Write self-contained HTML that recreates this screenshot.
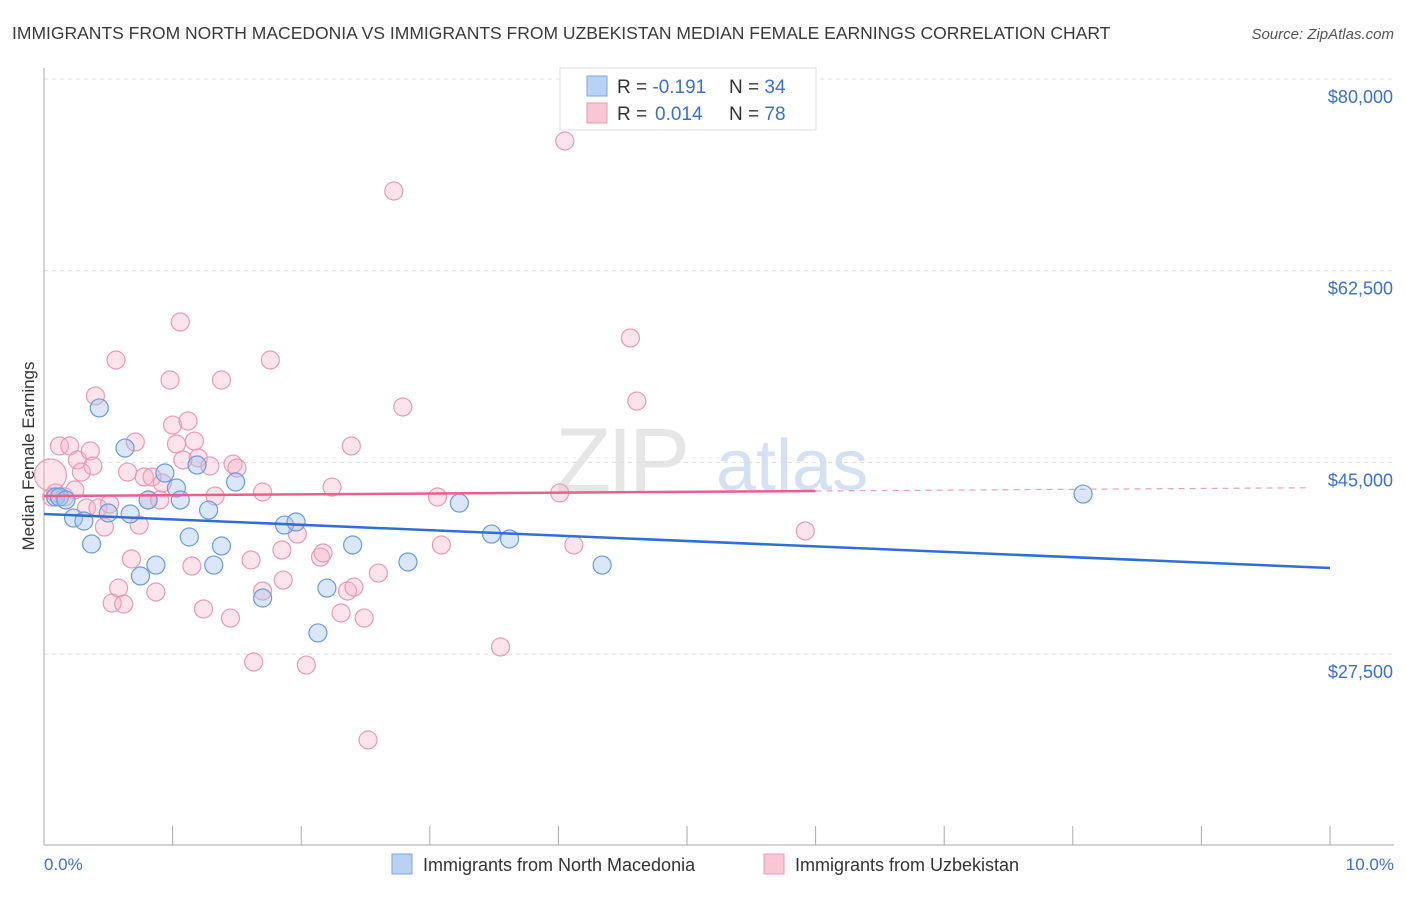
<!DOCTYPE html>
<html><head><meta charset="utf-8">
<style>
body{margin:0;background:#fff;font-family:"Liberation Sans",sans-serif;}
svg text{font-family:"Liberation Sans",sans-serif;}
</style></head>
<body>
<svg id="chart" width="1406" height="892" xmlns="http://www.w3.org/2000/svg">
<text x="12" y="39" font-size="17.5" fill="#3a3a3a">IMMIGRANTS FROM NORTH MACEDONIA VS IMMIGRANTS FROM UZBEKISTAN MEDIAN FEMALE EARNINGS CORRELATION CHART</text>
<text x="1394" y="39" font-size="15" fill="#555" font-style="italic" text-anchor="end">Source: ZipAtlas.com</text>
<text x="555" y="492" font-size="92" fill="#e6e6e6" font-family="Liberation Serif" letter-spacing="-4">ZIP</text>
<text x="716" y="490" font-size="72" fill="#d4e1f3">atlas</text>
<g id="grid"></g>
<g id="axes"></g>
<g id="pts"></g>
<g id="trends"></g>
<text transform="translate(34,456) rotate(-90)" font-size="17" fill="#333" text-anchor="middle">Median Female Earnings</text>
<text x="44" y="870" font-size="17" fill="#3a6fd8">0.0%</text>
<text x="1394" y="870" font-size="17" fill="#3a6fd8" text-anchor="end">10.0%</text>
<g>
<rect x="560" y="68" width="256" height="62" fill="#fff" stroke="#ddd"/>
<rect x="587" y="76" width="20" height="20" fill="#b8d2f4" stroke="#7aa6e6"/>
<rect x="587" y="103" width="20" height="20" fill="#f9c6d6" stroke="#ec9ab4"/>
<text x="617" y="93" font-size="19" fill="#333">R = <tspan fill="#3a6fd8">-0.191</tspan><tspan x="729">N = </tspan><tspan fill="#3a6fd8">34</tspan></text>
<text x="617" y="120" font-size="19" fill="#333">R = <tspan x="655" fill="#3a6fd8">0.014</tspan><tspan x="729">N = </tspan><tspan fill="#3a6fd8">78</tspan></text>
</g>
<g>
<rect x="392" y="854" width="20" height="20" fill="#b8d2f4" stroke="#7aa6e6"/>
<text x="423" y="871" font-size="18" fill="#333">Immigrants from North Macedonia</text>
<rect x="764" y="854" width="20" height="20" fill="#f9c6d6" stroke="#ec9ab4"/>
<text x="795" y="871" font-size="18" fill="#333">Immigrants from Uzbekistan</text>
</g>
</svg>
<script>
const yTicks=[80000,62500,45000,27500];
const yTickLabels=["$80,000","$62,500","$45,000","$27,500"];
const xTicks=[0,1,2,3,4,5,6,7,8,9,10];
const blueX=[.09,.12,.17,.23,.31,.37,.43,.50,.63,.67,.75,.81,.87,.94,1.03,1.06,1.13,1.19,1.28,1.32,1.38,1.49,1.70,1.87,1.96,2.13,2.20,2.40,2.83,3.23,3.48,3.62,4.34,8.08];
const blueY=[41840,41840,41570,39920,39650,37550,49970,40380,46310,40290,34630,41570,35630,44030,42660,41570,38190,44760,40650,35630,37370,43210,32620,39280,39560,29430,33530,37460,35910,41290,38460,38010,35630,42110];
const pinkX=[.05,.06,.09,.16,.12,.20,.26,.29,.36,.38,.40,.24,.33,.42,.47,.51,.53,.56,.58,.62,.65,.68,.71,.74,.78,.81,.84,.87,.90,.92,.98,1.00,1.03,1.06,1.08,1.12,1.15,1.17,1.20,1.24,1.29,1.33,1.38,1.45,1.47,1.50,1.61,1.63,1.70,1.70,1.76,1.85,1.86,1.97,2.04,2.15,2.17,2.24,2.31,2.36,2.39,2.41,2.49,2.52,2.60,2.72,2.79,3.06,3.09,3.55,4.01,4.05,4.12,4.56,4.61,5.92];
const pinkY=[43850,41840,42210,41840,46500,46500,45220,44120,46040,44670,51060,42480,40840,40840,39100,41200,32160,54350,33530,32070,44120,36180,46860,39280,43670,41570,43670,33170,41570,43120,52520,48410,46680,57820,45220,48780,35540,46950,45400,31620,44670,41930,52520,30790,44850,44490,36090,26780,42300,33260,54350,37000,34260,38460,26500,36360,36730,42750,31250,33260,46500,33620,30790,19660,34900,69780,50060,41840,37460,28150,42210,74340,37460,56360,50600,38740];
const blueTrend=[40290,35360];
const pinkTrend=[41930,42390];
const NS="http://www.w3.org/2000/svg";
const X=v=>44+v*128.6;
const Y=v=>79+(80000-v)*191.7/17500;
function mk(tag,parent,attrs){const e=document.createElementNS(NS,tag);for(const k in attrs)e.setAttribute(k,attrs[k]);parent.appendChild(e);return e;}
const grid=document.getElementById('grid'),axes=document.getElementById('axes'),pts=document.getElementById('pts'),tr=document.getElementById('trends');
yTicks.forEach((t,i)=>{
 const l=mk('line',grid,{x1:44,x2:1394,y1:Y(t),y2:Y(t),stroke:'#ddd','stroke-dasharray':'4,4'});
 
 
 const tx=mk('text',grid,{x:1393,y:Y(t)+24,'font-size':18,fill:'#3a6fd8','text-anchor':'end'});
 tx.textContent=yTickLabels[i];
 
 
});
const ya=mk('line',axes,{x1:44,x2:44,y1:68,y2:845,stroke:'#aaa'});


const xa=mk('line',axes,{x1:44,x2:1394,y1:845,y2:845,stroke:'#aaa'});


xTicks.forEach(t=>{
 const l=mk('line',axes,{x1:X(t),x2:X(t),y1:826,y2:845,stroke:'#aaa'});
 
 
});
pinkX.forEach((x,i)=>{
 const c=mk('circle',pts,{cx:X(x),cy:Y(pinkY[i]),r:i===0?16:9,fill:'rgba(248,175,198,0.35)',stroke:'#eb9ab4','stroke-width':1.2});
 
 
});
blueX.forEach((x,i)=>{
 const c=mk('circle',pts,{cx:X(x),cy:Y(blueY[i]),r:9,fill:'rgba(160,196,240,0.4)',stroke:'#6a9ae0','stroke-width':1.2});
 
 
});
const bt=mk('line',tr,{x1:X(0),y1:Y(blueTrend[0]),x2:X(10),y2:Y(blueTrend[1]),stroke:'#2e6fd6','stroke-width':2.5});


const pt=mk('line',tr,{x1:X(0),y1:Y(pinkTrend[0]),x2:X(6),y2:Y(pinkTrend[1]),stroke:'#e8608c','stroke-width':2.5});


const slope=(pinkTrend[1]-pinkTrend[0])/6;
const pd=mk('line',tr,{x1:X(6),y1:Y(pinkTrend[1]),x2:X(9.85),y2:Y(pinkTrend[0]+slope*9.85),stroke:'#e8a0b8','stroke-width':1.2,'stroke-dasharray':'6,5'});


</script>
</body></html>
